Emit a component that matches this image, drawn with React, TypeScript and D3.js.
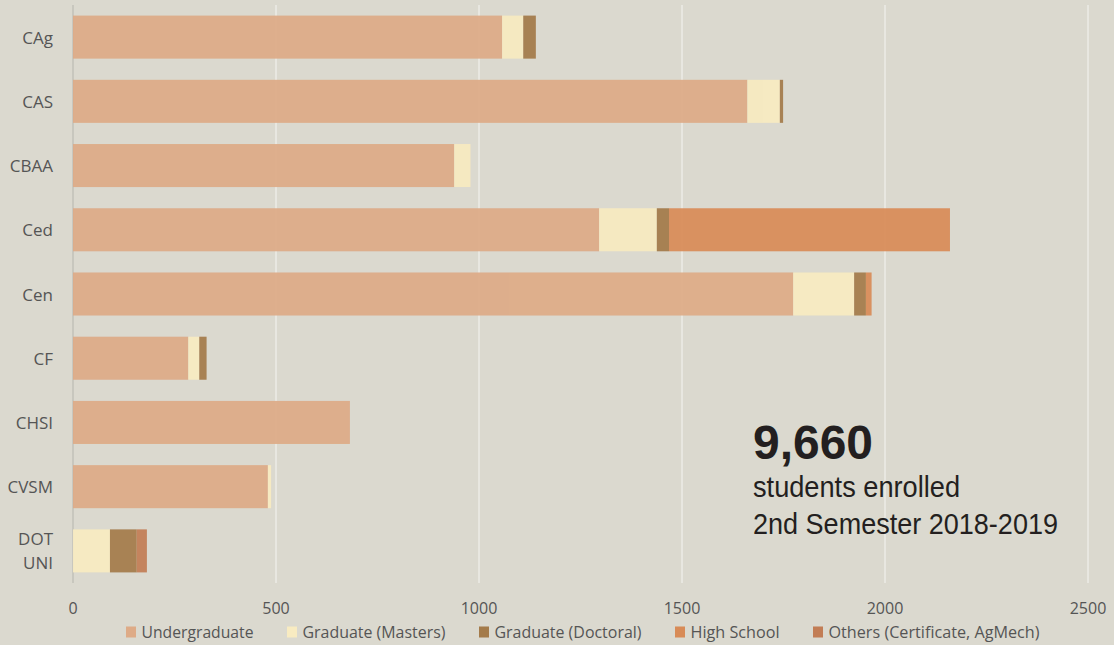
import React from "react";
import * as d3 from "d3";

const categories = ["CAg", "CAS", "CBAA", "Ced", "Cen", "CF", "CHSI", "CVSM", "DOT UNI"];
const undergraduate = [1057, 1661, 939, 1296, 1774, 284, 682, 480, 0];
const masters = [52, 80, 40, 142, 150, 27, 0, 8, 91];
const doctoral = [31, 8, 0, 30, 29, 18, 0, 0, 66];
const highSchool = [0, 0, 0, 692, 14, 0, 0, 0, 0];
const others = [0, 0, 0, 0, 0, 0, 0, 0, 25];
const seriesNames = [
  "Undergraduate",
  "Graduate (Masters)",
  "Graduate (Doctoral)",
  "High School",
  "Others (Certificate, AgMech)",
];
const tickValues = [0, 500, 1000, 1500, 2000, 2500];
const totalLabel = "9,660";
const subtitle1 = "students enrolled";
const subtitle2 = "2nd Semester 2018-2019";

const W = 1114;
const H = 645;
const BG = "#dbd9cf";
const COLORS = ["#deab87", "#f8ebc1", "#a47b4a", "#d88b57", "#c27d55"];
const LEGEND_TEXT_W = [112, 143, 147, 89, 211];
const FONT = "'Open Sans', 'Noto Sans', sans-serif";
const ANNOT_FONT = "'Liberation Sans', 'DejaVu Sans', sans-serif";

export default function App() {
  const x = d3.scaleLinear().domain([0, 2500]).range([73, 1088]);
  const y = d3
    .scaleBand<string>()
    .domain(categories)
    .range([5, 583])
    .paddingInner(0.33)
    .paddingOuter(0.165);

  const rows = categories.map((c, i) => ({
    cat: c,
    vals: [undergraduate[i], masters[i], doctoral[i], highSchool[i], others[i]],
  }));
  const keys = [0, 1, 2, 3, 4];
  const stack = d3
    .stack<any, number>()
    .keys(keys)
    .value((d: any, k: number) => d.vals[k]);
  const stacked = stack(rows as any);

  let lx = 126;
  const legendItems = seriesNames.map((name, i) => {
    const item = { name, x: lx, color: COLORS[i], tw: LEGEND_TEXT_W[i] };
    lx += 10 + 5.5 + LEGEND_TEXT_W[i] + 33.5;
    return item;
  });

  return (
    <svg
      width={W}
      height={H}
      style={{ position: "absolute", left: 0, top: 0, display: "block" }}
      fontFamily={FONT}
    >
      <rect x={0} y={0} width={W} height={H} fill={BG} />
      {tickValues.map((t) => (
        <line
          key={"g" + t}
          x1={x(t)}
          x2={x(t)}
          y1={5}
          y2={583}
          stroke={t === 0 ? "#c2c0b8" : "#f1f0ec"}
          strokeWidth={t === 0 ? 1.5 : 1.2}
        />
      ))}
      {stacked.map((layer, si) => (
        <g key={"s" + si} fill={COLORS[si]} opacity={0.93}>
          {layer.map((d: any, i: number) =>
            d[1] - d[0] > 0 ? (
              <rect
                key={i}
                x={x(d[0])}
                y={y(categories[i])}
                width={x(d[1]) - x(d[0])}
                height={y.bandwidth()}
              />
            ) : null
          )}
        </g>
      ))}
      {categories.map((c) => {
        const cy = (y(c) as number) + y.bandwidth() / 2;
        const parts = c.split(" ");
        return (
          <text
            key={"y" + c}
            x={53}
            y={cy}
            textAnchor="end"
            fontSize={17}
            fill="#555"
          >
            {parts.map((p, k) => (
              <tspan
                key={k}
                x={53}
                y={cy + (k - (parts.length - 1) / 2) * 24}
                dominantBaseline="central"
              >
                {p}
              </tspan>
            ))}
          </text>
        );
      })}
      {tickValues.map((t) => (
        <text
          key={"t" + t}
          x={x(t)}
          y={614}
          textAnchor="middle"
          fontSize={16}
          fill="#555"
        >
          {t}
        </text>
      ))}
      {legendItems.map((it) => (
        <g key={it.name}>
          <rect x={it.x} y={626.5} width={10} height={11} fill={it.color} />
          <text
            x={it.x + 15.5}
            y={638}
            fontSize={17}
            fill="#555"
            textLength={it.tw}
            lengthAdjust="spacingAndGlyphs"
          >
            {it.name}
          </text>
        </g>
      ))}
      <g fontFamily={ANNOT_FONT} fill="#231f20">
        <text
          x={753}
          y={459}
          fontSize={48}
          fontWeight={700}
          textLength={120}
          lengthAdjust="spacingAndGlyphs"
        >
          {totalLabel}
        </text>
        <text
          x={753}
          y={497}
          fontSize={29}
          textLength={207}
          lengthAdjust="spacingAndGlyphs"
        >
          {subtitle1}
        </text>
        <text
          x={753}
          y={534}
          fontSize={29}
          textLength={305}
          lengthAdjust="spacingAndGlyphs"
        >
          {subtitle2}
        </text>
      </g>
    </svg>
  );
}
